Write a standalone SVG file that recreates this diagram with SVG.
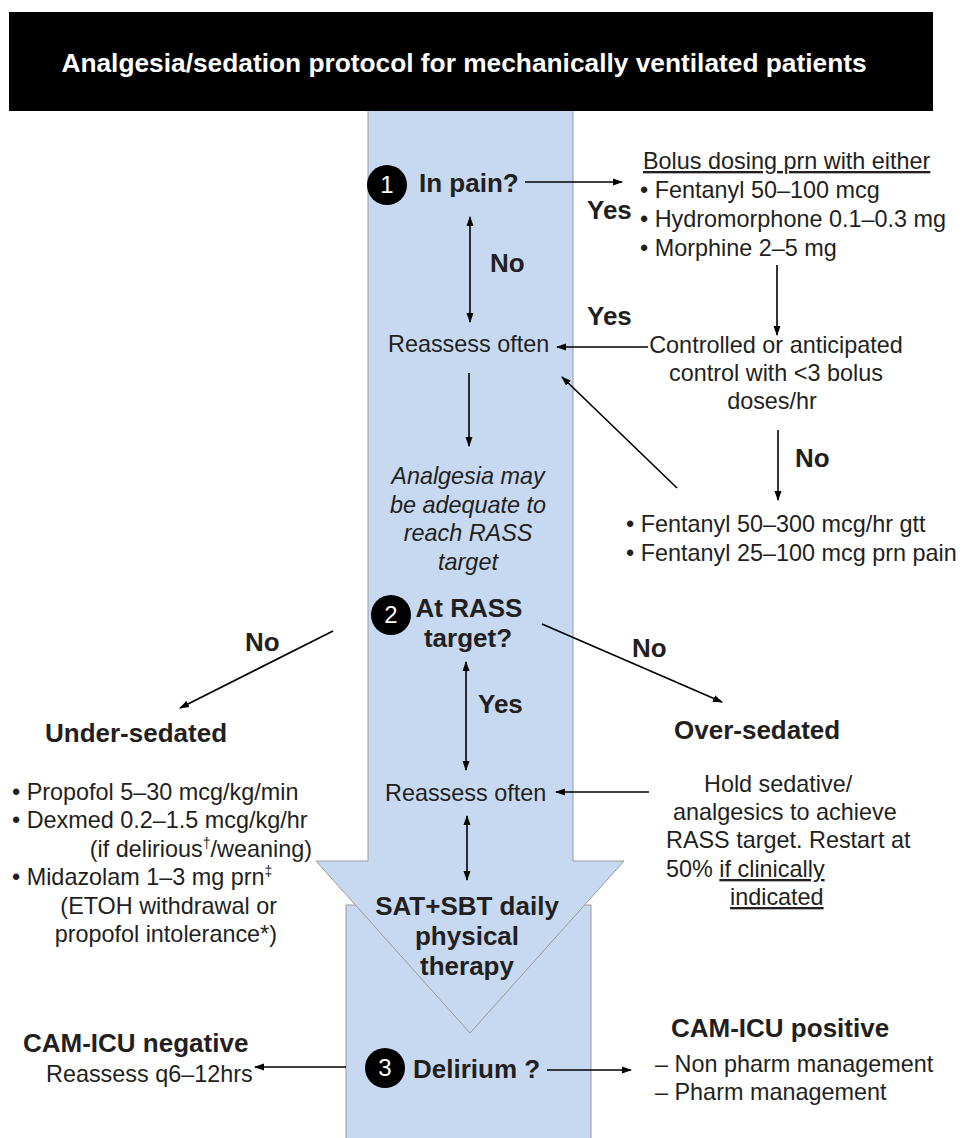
<svg xmlns="http://www.w3.org/2000/svg" width="963" height="1138" viewBox="0 0 963 1138">
  <style>
    text { font-family: "Liberation Sans", Arial, Helvetica, sans-serif; fill: #231f20; }
    .r { font-size: 23.4px; }
    .b { font-size: 26px; font-weight: bold; }
    .i { font-size: 23.4px; font-style: italic; }
    .m { text-anchor: middle; }
    .e { text-anchor: end; }
    .u { text-decoration: underline; }
    .num { font-size: 24px; fill: #ffffff; text-anchor: middle; }
    .hdr { font-size: 26.3px; font-weight: bold; fill: #ffffff; text-anchor: middle; }
    .shape { fill: #c6d9f1; stroke: #9a9a9a; stroke-width: 1; }
    .conn line { stroke: #000000; stroke-width: 1.6; fill: none; }
    .one { marker-end: url(#ah); }
    .two { marker-start: url(#ah); marker-end: url(#ah); }
  </style>
  <defs>
    <marker id="ah" markerUnits="userSpaceOnUse" markerWidth="10" markerHeight="8" refX="9" refY="4" orient="auto-start-reverse">
      <path d="M0,0.5 L10,4 L0,7.5 Z" fill="#000000"/>
    </marker>
  </defs>

  <rect width="963" height="1138" fill="#ffffff"/>

  <!-- background arrow shapes -->
  <g id="flow-shaft">
    <rect class="shape" x="346" y="905" width="245" height="240"/>
    <polygon class="shape" points="368,100 573,100 573,861 624,861 470,1033 316,861 368,861"/>
  </g>

  <!-- header -->
  <g id="header">
    <rect x="9" y="12" width="924" height="99" fill="#000000"/>
    <text class="hdr" x="464" y="72">Analgesia/sedation protocol for mechanically ventilated patients</text>
  </g>

  <!-- connectors -->
  <g id="connectors" class="conn">
    <line class="one" x1="525" y1="182" x2="622" y2="182"/>
    <line class="two" x1="470" y1="217" x2="470" y2="322"/>
    <line class="one" x1="777" y1="265" x2="777" y2="335"/>
    <line class="one" x1="648" y1="347" x2="557" y2="347"/>
    <line class="one" x1="677" y1="488" x2="562" y2="377"/>
    <line class="one" x1="778" y1="430" x2="778" y2="500"/>
    <line class="one" x1="469" y1="373" x2="469" y2="446"/>
    <line class="one" x1="333" y1="631" x2="180" y2="708"/>
    <line class="one" x1="542" y1="624" x2="722" y2="702"/>
    <line class="two" x1="466" y1="662" x2="466" y2="770"/>
    <line class="one" x1="649" y1="792" x2="556" y2="792"/>
    <line class="two" x1="467" y1="816" x2="467" y2="880"/>
    <line class="one" x1="346" y1="1067" x2="255" y2="1067"/>
    <line class="one" x1="547" y1="1070" x2="631" y2="1070"/>
  </g>

  <!-- step 1 -->
  <g id="step1">
    <circle cx="387" cy="185" r="20" fill="#000000"/>
    <text class="num" x="387" y="193">1</text>
    <text class="b" x="419" y="192">In pain?</text>
  </g>
  <g id="label-yes-1"><text class="b" x="587" y="219">Yes</text></g>
  <g id="label-no-1"><text class="b" x="490" y="272">No</text></g>
  <g id="label-yes-2"><text class="b" x="587" y="325">Yes</text></g>

  <g id="bolus">
    <text class="r u" x="643" y="169">Bolus dosing prn with either</text>
    <text class="r" x="640" y="198">• Fentanyl 50–100 mcg</text>
    <text class="r" x="640" y="227">• Hydromorphone 0.1–0.3 mg</text>
    <text class="r" x="640" y="256">• Morphine 2–5 mg</text>
  </g>

  <g id="reassess-1"><text class="r" x="388" y="352">Reassess often</text></g>

  <g id="controlled">
    <text class="r m" x="776" y="353">Controlled or anticipated</text>
    <text class="r m" x="776" y="381">control with &lt;3 bolus</text>
    <text class="r m" x="772" y="409">doses/hr</text>
  </g>
  <g id="label-no-2"><text class="b" x="795" y="467">No</text></g>

  <g id="infusion">
    <text class="r" x="626" y="532">• Fentanyl 50–300 mcg/hr gtt</text>
    <text class="r" x="626" y="561">• Fentanyl 25–100 mcg prn pain</text>
  </g>

  <g id="analgesia-note">
    <text class="i m" x="468" y="484">Analgesia may</text>
    <text class="i m" x="468" y="513">be adequate to</text>
    <text class="i m" x="468" y="541">reach RASS</text>
    <text class="i m" x="468" y="570">target</text>
  </g>

  <!-- step 2 -->
  <g id="step2">
    <circle cx="391" cy="615" r="20" fill="#000000"/>
    <text class="num" x="391" y="623">2</text>
    <text class="b m" x="469" y="617">At RASS</text>
    <text class="b m" x="468" y="647">target?</text>
  </g>
  <g id="label-no-3"><text class="b" x="245" y="651">No</text></g>
  <g id="label-no-4"><text class="b" x="632" y="657">No</text></g>
  <g id="label-yes-3"><text class="b" x="478" y="713">Yes</text></g>

  <g id="under-sedated">
    <text class="b" x="45" y="742">Under-sedated</text>
    <text class="r" x="12" y="800">• Propofol 5–30 mcg/kg/min</text>
    <text class="r" x="12" y="828">• Dexmed 0.2–1.5 mcg/kg/hr</text>
    <text class="r e" x="312" y="857">(if delirious<tspan font-size="14" dy="-9">†</tspan><tspan dy="9">/weaning)</tspan></text>
    <text class="r" x="12" y="885">• Midazolam 1–3 mg prn<tspan font-size="14" dy="-9">‡</tspan></text>
    <text class="r e" x="277" y="914">(ETOH withdrawal or</text>
    <text class="r e" x="277" y="942">propofol intolerance*)</text>
  </g>

  <g id="over-sedated">
    <text class="b" x="674" y="739">Over-sedated</text>
    <text class="r" x="704" y="792">Hold sedative/</text>
    <text class="r" x="673" y="820">analgesics to achieve</text>
    <text class="r" x="666" y="848">RASS target. Restart at</text>
    <text class="r" x="666" y="877">50% <tspan class="u">if clinically</tspan></text>
    <text class="r u" x="730" y="905">indicated</text>
  </g>

  <g id="reassess-2"><text class="r" x="385" y="801">Reassess often</text></g>

  <g id="sat-sbt">
    <text class="b m" x="467" y="915">SAT+SBT daily</text>
    <text class="b m" x="467" y="945">physical</text>
    <text class="b m" x="467" y="975">therapy</text>
  </g>

  <!-- step 3 -->
  <g id="step3">
    <circle cx="385" cy="1068" r="20" fill="#000000"/>
    <text class="num" x="385" y="1076">3</text>
    <text class="b" x="413" y="1078">Delirium ?</text>
  </g>

  <g id="cam-negative">
    <text class="b" x="23" y="1052">CAM-ICU negative</text>
    <text class="r" x="46" y="1082">Reassess q6–12hrs</text>
  </g>

  <g id="cam-positive">
    <text class="b" x="671" y="1037">CAM-ICU positive</text>
    <text class="r" x="655" y="1072">– Non pharm management</text>
    <text class="r" x="655" y="1100">– Pharm management</text>
  </g>
</svg>
